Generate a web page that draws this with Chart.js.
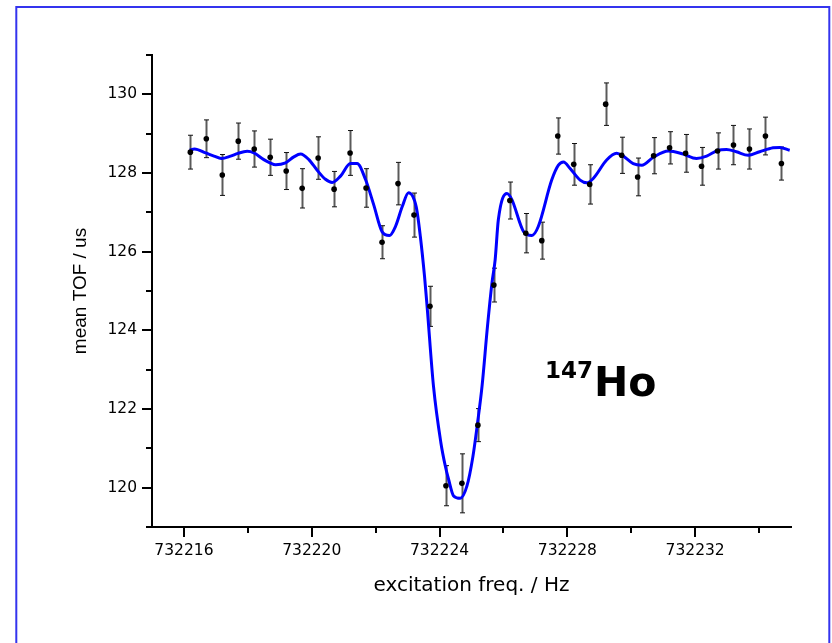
<!DOCTYPE html>
<html>
<head>
<meta charset="utf-8">
<script src="https://cdn.jsdelivr.net/npm/chart.js@4.4.1/dist/chart.umd.min.js"></script>
<style>
    html, body { margin: 0; padding: 0; background: #fff; }
    canvas { display: block; }
</style>
</head>
<body>
<canvas id="chartTof" width="832" height="643"></canvas>
<script>
// Puntos medidos (frecuencia de excitación, TOF medio, error)
const freqHz = [
    732216.2, 732216.7, 732217.2, 732217.7, 732218.2, 732218.7, 732219.2, 732219.7,
    732220.2, 732220.7, 732221.2, 732221.7, 732222.2, 732222.7, 732223.2, 732223.7,
    732224.2, 732224.7, 732225.2, 732225.7, 732226.2, 732226.7, 732227.2, 732227.7,
    732228.2, 732228.7, 732229.2, 732229.7, 732230.2, 732230.7, 732231.2, 732231.7,
    732232.2, 732232.7, 732233.2, 732233.7, 732234.2, 732234.7
];
const meanTof = [
    128.53, 128.87, 127.95, 128.81, 128.61, 128.40, 128.05, 127.61, 128.38, 127.59,
    128.51, 127.62, 126.24, 127.73, 126.93, 124.61, 120.05, 120.11, 121.59, 125.15,
    127.30, 126.47, 126.28, 128.94, 128.22, 127.71, 129.75, 128.45, 127.90, 128.44,
    128.64, 128.50, 128.17, 128.56, 128.71, 128.61, 128.94, 128.24
];
const tofErr = [
    0.43, 0.48, 0.52, 0.46, 0.46, 0.46, 0.47, 0.50, 0.54, 0.45,
    0.57, 0.49, 0.42, 0.54, 0.56, 0.51, 0.51, 0.75, 0.42, 0.43,
    0.47, 0.50, 0.47, 0.46, 0.53, 0.50, 0.54, 0.46, 0.48, 0.46,
    0.41, 0.48, 0.48, 0.46, 0.50, 0.51, 0.48, 0.42
];

// Curva de ajuste
const fitFreqHz = [
    732216.18, 732216.33, 732216.68, 732216.94, 732217.17, 732217.46, 732217.69, 732217.98, 732218.19, 732218.50,
    732218.69, 732218.87, 732219.18, 732219.44, 732219.65, 732219.91, 732220.17, 732220.43, 732220.64, 732220.90,
    732221.21, 732221.42, 732221.68, 732221.94, 732222.20, 732222.43, 732222.62, 732222.83, 732223.03, 732223.27,
    732223.40, 732223.53, 732223.61, 732223.81, 732224.04, 732224.18, 732224.28, 732224.44, 732224.65, 732224.86,
    732225.04, 732225.19, 732225.33, 732225.50, 732225.64, 732225.74, 732225.84, 732226.11, 732226.26, 732226.63,
    732226.89, 732227.09, 732227.51, 732227.72, 732227.88, 732228.08, 732228.40, 732228.61, 732228.81, 732229.23,
    732229.54, 732229.75, 732230.06, 732230.33, 732230.69, 732231.16, 732231.63, 732232.04, 732232.36, 732232.72,
    732232.98, 732233.29, 732233.66, 732234.02, 732234.44, 732234.65, 732234.96
];
const fitTof = [
    128.58, 128.61, 128.51, 128.43, 128.37, 128.43, 128.50, 128.55, 128.51, 128.34,
    128.26, 128.21, 128.26, 128.41, 128.48, 128.34, 128.07, 127.84, 127.76, 127.92,
    128.24, 128.24, 127.84, 127.19, 126.51, 126.41, 126.64, 127.14, 127.50, 127.14,
    126.38, 125.37, 124.61, 122.58, 121.15, 120.55, 120.22, 119.79, 119.73, 120.05,
    120.77, 121.65, 122.58, 124.10, 125.20, 125.79, 126.81, 127.48, 127.33, 126.51,
    126.41, 126.64, 127.82, 128.20, 128.28, 128.12, 127.82, 127.75, 127.86, 128.33,
    128.50, 128.43, 128.24, 128.20, 128.40, 128.56, 128.48, 128.37, 128.43, 128.58,
    128.60, 128.54, 128.45, 128.54, 128.64, 128.65, 128.58
];

// Marcas de los ejes
const xMajorTicks = [732216, 732220, 732224, 732228, 732232];
const xMinorTicks = [732218, 732222, 732226, 732230, 732234];
const yMajorTicks = [120, 122, 124, 126, 128, 130];
const yMinorTicks = [119, 121, 123, 125, 127, 129, 131];

const tickFont = { family: 'DejaVu Sans', size: 15.5 };

// etiqueta solo si el valor redondeado es una marca principal
function majorLabel(list) {
    return function (value) {
        const r = Math.round(value);
        return (Math.abs(value - r) < 1e-4 && list.includes(r)) ? String(r) : '';
    };
}

// marco azul, barras de error, marcas de ejes y etiqueta del isótopo
const decorPlugin = {
    id: 'decor',
    beforeDraw(chart) {
        const ctx = chart.ctx;
        ctx.save();
        ctx.fillStyle = '#fff';
        ctx.fillRect(0, 0, chart.width, chart.height);
        ctx.strokeStyle = '#3434ee';
        ctx.lineWidth = 2;
        ctx.strokeRect(16.3, 7, 813, 700);
        ctx.restore();
    },
    beforeDatasetsDraw(chart) {
        const ctx = chart.ctx;
        const xs = chart.scales.x, ys = chart.scales.y;
        ctx.save();
        freqHz.forEach((f, i) => {
            const px = Math.round(xs.getPixelForValue(f)) + 0.5;
            const top = ys.getPixelForValue(meanTof[i] + tofErr[i]);
            const bot = ys.getPixelForValue(meanTof[i] - tofErr[i]);
            ctx.strokeStyle = '#5a5a5a';
            ctx.lineWidth = 2;
            ctx.beginPath();
            ctx.moveTo(px, top);
            ctx.lineTo(px, bot);
            ctx.stroke();
            ctx.strokeStyle = '#111';
            ctx.lineWidth = 1;
            ctx.beginPath();
            ctx.moveTo(px - 2.5, top);
            ctx.lineTo(px + 2.5, top);
            ctx.moveTo(px - 2.5, bot);
            ctx.lineTo(px + 2.5, bot);
            ctx.stroke();
        });
        ctx.restore();
    },
    afterDraw(chart) {
        const ctx = chart.ctx;
        const xs = chart.scales.x, ys = chart.scales.y;
        const area = chart.chartArea;
        ctx.save();
        ctx.strokeStyle = '#000';
        ctx.lineWidth = 2;
        ctx.beginPath();
        const xTick = (v, len) => {
            const px = Math.round(xs.getPixelForValue(v));
            ctx.moveTo(px, area.bottom);
            ctx.lineTo(px, area.bottom + len);
        };
        const yTick = (v, len) => {
            const py = Math.round(ys.getPixelForValue(v));
            ctx.moveTo(area.left, py);
            ctx.lineTo(area.left - len, py);
        };
        xMajorTicks.forEach(v => xTick(v, 10));
        xMinorTicks.forEach(v => xTick(v, 6));
        yMajorTicks.forEach(v => yTick(v, 10));
        yMinorTicks.forEach(v => yTick(v, 6));
        ctx.stroke();

        // 147Ho
        ctx.fillStyle = '#000';
        ctx.textBaseline = 'alphabetic';
        ctx.font = 'bold 23px "DejaVu Sans"';
        ctx.fillText('147', 545, 378);
        const w = ctx.measureText('147').width;
        ctx.font = 'bold 41px "DejaVu Sans"';
        ctx.fillText('Ho', 545 + w + 1, 396);
        ctx.restore();
    }
};

new Chart(document.getElementById('chartTof'), {
    type: 'scatter',
    data: {
        datasets: [{
            type: 'line',
            label: 'fit',
            data: fitFreqHz.map((f, i) => ({ x: f, y: fitTof[i] })),
            borderColor: '#0000ff',
            borderWidth: 3,
            pointRadius: 0,
            fill: false,
            cubicInterpolationMode: 'monotone',
            order: 2
        }, {
            label: 'mean TOF',
            data: freqHz.map((f, i) => ({ x: f, y: meanTof[i] })),
            pointRadius: 2.8,
            pointBackgroundColor: '#000',
            pointBorderColor: '#000',
            pointBorderWidth: 0,
            order: 1
        }]
    },
    options: {
        responsive: false,
        animation: false,
        devicePixelRatio: 1,
        layout: { padding: { left: 0, top: 55, right: 41, bottom: 0 } },
        plugins: {
            legend: { display: false },
            tooltip: { enabled: false }
        },
        scales: {
            x: {
                type: 'linear',
                min: 732215,
                max: 732235,
                afterFit(scale) { scale.height = 116; },
                afterBuildTicks(scale) {
                    scale.ticks = xMajorTicks.map(v => ({ value: v }));
                },
                border: { display: true, color: '#000', width: 2 },
                grid: { display: false, drawTicks: false },
                ticks: {
                    autoSkip: false,
                    maxRotation: 0,
                    minRotation: 0,
                    padding: 15,
                    color: '#000',
                    font: tickFont,
                    callback: majorLabel(xMajorTicks)
                },
                title: {
                    display: true,
                    text: 'excitation freq. / Hz',
                    color: '#000',
                    font: { family: 'DejaVu Sans', size: 20 },
                    padding: { top: 0, bottom: 45 }
                }
            },
            y: {
                type: 'linear',
                min: 119,
                max: 131,
                afterFit(scale) { scale.width = 152; },
                border: { display: true, color: '#000', width: 2 },
                grid: { display: false, drawTicks: false },
                ticks: {
                    stepSize: 1,
                    autoSkip: false,
                    padding: 15,
                    color: '#000',
                    font: tickFont,
                    callback: majorLabel(yMajorTicks)
                },
                title: {
                    display: true,
                    text: 'mean TOF / us',
                    color: '#000',
                    font: { family: 'Liberation Sans', size: 19 },
                    padding: { top: 69, bottom: 0 }
                }
            }
        }
    },
    plugins: [decorPlugin]
});
</script>
</body>
</html>
